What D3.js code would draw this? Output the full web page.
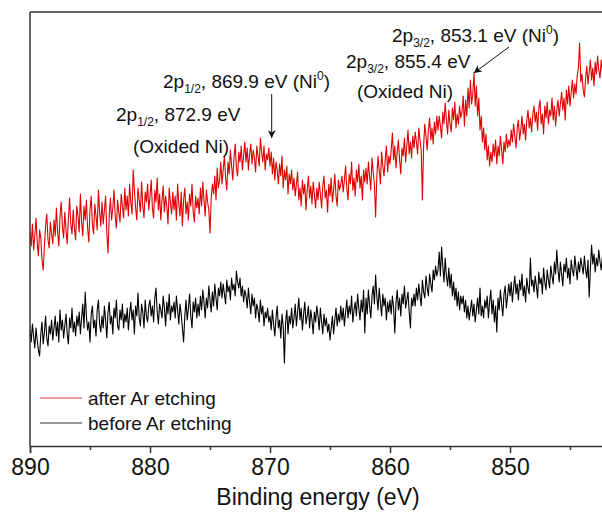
<!DOCTYPE html>
<html>
<head>
<meta charset="utf-8">
<script src="https://cdn.jsdelivr.net/npm/d3@7"></script>
<style>
  html, body { margin: 0; padding: 0; background: #fff; }
  svg { display: block; }
  text { font-family: "Liberation Sans", Arial, sans-serif; fill: #111; }
</style>
</head>
<body>
<svg id="chart" width="602" height="514"></svg>
<script>
// ---- data (binding energy grid: 890.0 eV down to 842.1 eV, 0.1 eV step) ----
const energyStart = 890.0;
const energyStep = 0.1;

// intensity (a.u.), after Ar etching — one row = 2 eV
const afterEtching = [
  214,200,222,196,210,228,204,190,216,208,186,176,200,220,232,206,198,224,212,202,
  226,210,238,214,200,230,244,220,208,234,216,202,228,248,222,212,236,218,206,240,
  230,214,252,224,210,240,226,246,218,204,236,250,222,212,242,230,216,256,234,220,
  244,222,236,250,214,193,230,248,226,238,256,230,218,246,234,224,252,240,228,258,
  236,250,230,262,244,232,276,256,238,226,258,246,234,264,240,228,254,244,262,236,
  250,266,238,228,256,244,268,236,252,226,246,260,234,250,240,222,258,244,232,254,
  236,250,226,262,242,230,254,220,246,258,232,244,226,252,240,262,234,224,250,238,
  248,232,258,240,264,246,230,256,244,236,213,248,262,252,270,246,278,258,266,284,
  262,276,290,268,256,284,272,296,280,266,288,302,278,270,294,284,300,276,290,304,
  284,298,276,292,302,282,296,288,274,300,290,280,308,294,284,300,276,292,286,298,
  280,294,272,288,266,284,276,262,282,270,290,258,276,266,280,252,272,262,276,256,
  268,250,262,274,246,258,240,266,252,262,236,256,270,248,260,242,264,252,238,258,
  246,264,252,238,260,270,248,256,234,262,250,268,244,256,272,250,240,266,256,262,
  270,254,266,280,258,246,272,262,284,256,268,250,276,264,282,258,270,246,276,264,
  278,262,284,270,256,288,274,262,229,268,290,276,262,294,280,270,286,300,274,290,
  282,296,313,286,300,278,294,306,286,272,298,290,308,284,300,316,292,304,288,310,
  298,314,304,292,318,306,296,246,300,322,310,296,316,328,306,318,302,324,312,330,
  316,330,320,308,334,322,343,326,312,336,322,314,338,326,344,318,332,322,340,328,
  334,350,320,346,330,358,338,366,342,352,373,340,360,330,348,316,330,304,318,296,
  312,286,300,280,294,284,302,290,306,282,300,290,310,296,282,304,294,312,298,306,
  300,316,304,322,310,298,318,326,306,316,330,312,322,306,326,336,318,328,314,332,
  340,324,334,316,338,346,322,332,312,340,328,344,322,336,330,348,326,340,320,336,
  346,330,342,354,336,348,326,356,342,360,340,354,366,348,362,352,370,378,403,364,
  372,356,349,368,380,362,374,386,366,378,360,384,372,390,376,368,386,374,392,380
];

// intensity (a.u.), before Ar etching — one row = 2 eV
const beforeEtching = [
  116,104,122,110,98,118,106,96,90,112,124,102,114,130,108,100,120,112,126,106,
  118,130,110,124,104,136,116,126,108,120,132,112,102,128,118,138,114,124,110,130,
  120,134,112,128,142,118,154,130,116,124,104,132,140,118,126,110,136,146,122,114,
  130,118,140,126,108,134,144,122,130,112,138,128,146,120,116,136,126,142,118,132,
  124,138,116,132,144,126,136,112,140,130,153,128,120,142,134,118,146,130,124,140,
  146,130,140,124,148,158,134,122,142,136,128,150,138,120,144,132,152,126,140,134,
  144,128,150,136,122,142,132,118,104,130,146,126,138,152,130,118,144,134,148,128,
  142,130,150,136,156,144,128,148,138,160,146,134,154,140,162,148,136,158,150,164,
  148,162,152,142,166,154,160,146,168,156,162,150,175,164,158,168,150,160,144,156,
  150,138,158,144,132,152,140,148,128,142,136,124,146,132,140,120,134,128,138,124,
  130,116,136,122,110,128,140,118,126,108,132,120,83,124,136,112,130,122,138,118,
  128,142,120,134,148,126,138,116,132,144,122,130,140,118,136,126,112,134,124,140,
  130,116,138,124,112,132,120,128,114,122,106,118,130,112,126,138,120,132,124,140,
  126,138,120,134,146,128,140,132,150,124,136,144,130,152,138,126,146,134,156,113,
  148,132,156,140,128,150,160,142,171,150,136,158,144,130,152,140,148,126,144,134,
  146,132,150,138,113,144,156,136,148,130,152,142,160,138,146,154,134,118,148,140,
  152,140,158,146,162,150,140,166,154,148,170,158,150,172,162,154,176,166,180,170,
  176,194,170,199,180,164,188,170,160,178,158,172,150,164,146,158,140,154,136,150,
  142,150,134,146,128,140,126,136,146,130,142,124,136,148,132,158,130,140,128,146,
  138,150,128,144,156,132,146,124,140,114,148,136,156,142,130,152,160,138,150,162,
  150,164,144,158,170,152,162,146,166,156,172,150,160,144,168,158,152,188,160,166,
  154,170,160,148,174,162,168,152,178,164,156,176,166,158,180,170,162,184,172,196,
  176,164,184,172,160,182,174,188,168,178,162,186,176,170,190,178,166,184,174,188,
  180,172,190,176,168,186,149,178,201,182,192,174,188,180,196,184,176,190,182,194
];

const seriesNames = ["after Ar etching", "before Ar etching"];
const seriesColors = ["#e00000", "#000000"];
const legendColors = ["#e03c3c", "#333333"];

const majorTicks = [890, 880, 870, 860, 850];
const minorTicks = [885, 875, 865, 855, 845];

const annotations = [
  { main: "2p", sub: "1/2", rest: ", 869.9 eV (Ni", sup: "0", tail: ")" },
  { main: "2p", sub: "1/2", rest: ", 872.9 eV", sup: "", tail: "" },
  { main: "2p", sub: "3/2", rest: ", 853.1 eV (Ni", sup: "0", tail: ")" },
  { main: "2p", sub: "3/2", rest: ", 855.4 eV", sup: "", tail: "" }
];

// ---- layout ----
const svg = d3.select("#chart");
const plotLeft = 30, plotTop = 12, plotBottom = 446, plotRight = 630;

const x = d3.scaleLinear().domain([890, 840]).range([plotLeft, plotRight]);
const y = d3.scaleLinear().domain([0, 434]).range([plotBottom, plotTop]);

const energies = afterEtching.map((_, i) => energyStart - i * energyStep);

const defs = svg.append("defs");
defs.append("clipPath").attr("id", "plotclip")
  .append("rect").attr("x", plotLeft).attr("y", plotTop)
  .attr("width", plotRight - plotLeft).attr("height", plotBottom - plotTop);

const line = d3.line().x((d, i) => x(energies[i])).y(d => y(d));

const g = svg.append("g").attr("clip-path", "url(#plotclip)");
g.append("path").datum(afterEtching)
  .attr("d", line).attr("fill", "none")
  .attr("stroke", seriesColors[0]).attr("stroke-width", 1.1).attr("stroke-linejoin", "round");
g.append("path").datum(beforeEtching)
  .attr("d", line).attr("fill", "none")
  .attr("stroke", seriesColors[1]).attr("stroke-width", 1.1).attr("stroke-linejoin", "round");

// frame: left + top lines
svg.append("line").attr("x1", plotLeft).attr("x2", plotLeft).attr("y1", plotTop).attr("y2", plotBottom)
  .attr("stroke", "#333").attr("stroke-width", 1.5);
svg.append("line").attr("x1", plotLeft).attr("x2", 602).attr("y1", plotTop).attr("y2", plotTop)
  .attr("stroke", "#333").attr("stroke-width", 1.5);

// bottom axis
const xAxis = d3.axisBottom(x).tickValues(majorTicks).tickSize(7).tickPadding(6).tickFormat(d3.format("d"));
const ax = svg.append("g").attr("transform", `translate(0,${plotBottom})`).call(xAxis);
ax.select(".domain").attr("stroke", "#333").attr("stroke-width", 1.5);
ax.selectAll(".tick line").attr("stroke", "#333").attr("stroke-width", 1.5);
ax.selectAll(".tick text").attr("font-size", 23).attr("fill", "#111")
  .style("font-family", "'Liberation Sans', Arial, sans-serif");

const axMinor = d3.axisBottom(x).tickValues(minorTicks).tickSize(4).tickFormat("");
const am = svg.append("g").attr("transform", `translate(0,${plotBottom})`).call(axMinor);
am.select(".domain").remove();
am.selectAll(".tick line").attr("stroke", "#333").attr("stroke-width", 1.5);

svg.append("text").attr("x", 318).attr("y", 505).attr("text-anchor", "middle")
  .attr("font-size", 23).text("Binding energy (eV)");

// annotations
function annot(a, px, py) {
  const t = svg.append("text").attr("x", px).attr("y", py).attr("font-size", 19);
  t.append("tspan").text(a.main);
  t.append("tspan").attr("font-size", 12).attr("dy", 5).text(a.sub);
  t.append("tspan").attr("dy", -5).text(a.rest);
  if (a.sup) {
    t.append("tspan").attr("font-size", 12).attr("dy", -8).text(a.sup);
    t.append("tspan").attr("dy", 8).text(a.tail);
  }
}
annot(annotations[0], 163, 88);
annot(annotations[1], 116, 121);
svg.append("text").attr("x", 133).attr("y", 153).attr("font-size", 19).text("(Oxided Ni)");
annot(annotations[2], 392, 42);
annot(annotations[3], 346, 68);
svg.append("text").attr("x", 357).attr("y", 98).attr("font-size", 19).text("(Oxided Ni)");

// arrows
defs.append("marker").attr("id", "ah").attr("viewBox", "0 0 10 10")
  .attr("refX", 10).attr("refY", 5).attr("markerWidth", 8).attr("markerHeight", 8)
  .attr("markerUnits", "userSpaceOnUse").attr("orient", "auto")
  .append("path").attr("d", "M0,0 L10,5 L0,10 L3,5 Z").attr("fill", "#111");

svg.append("line").attr("x1", x(869.9) + 0.5).attr("y1", 94).attr("x2", x(869.9) + 0.5).attr("y2", 138)
  .attr("stroke", "#111").attr("stroke-width", 1).attr("marker-end", "url(#ah)");
svg.append("line").attr("x1", 509).attr("y1", 47).attr("x2", x(853.1) + 1).attr("y2", 73)
  .attr("stroke", "#111").attr("stroke-width", 1).attr("marker-end", "url(#ah)");

// legend
const leg = svg.append("g");
seriesNames.forEach((name, i) => {
  const ly = 398 + i * 25;
  leg.append("line").attr("x1", 40).attr("x2", 82).attr("y1", ly).attr("y2", ly)
    .attr("stroke", legendColors[i]).attr("stroke-width", 1.2);
  leg.append("text").attr("x", 88).attr("y", ly + 7).attr("font-size", 19).text(name);
});
</script>
</body>
</html>
